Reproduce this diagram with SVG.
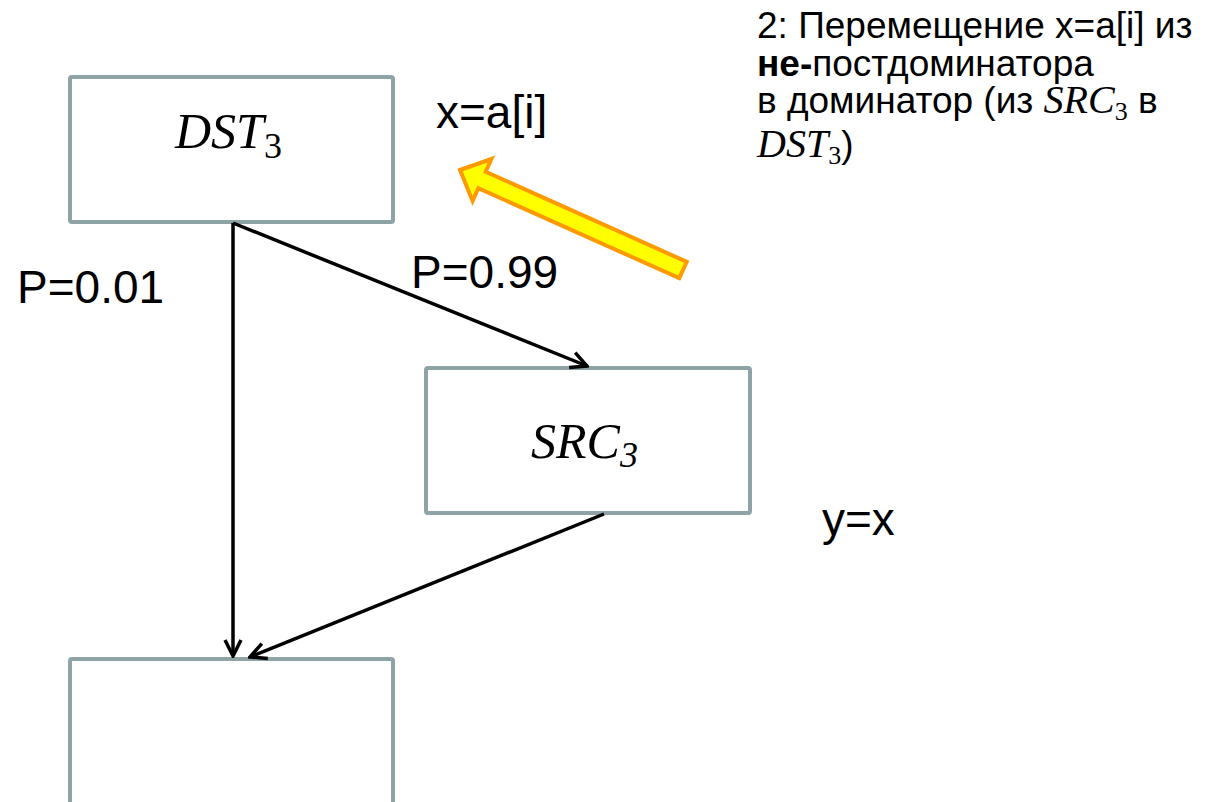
<svg xmlns="http://www.w3.org/2000/svg" width="1212" height="802" viewBox="0 0 1212 802">
<style>
.box{fill:#fff;stroke:#8DA3A6;stroke-width:4;}
.lbl{font-family:"Liberation Sans",Arial,sans-serif;font-size:46px;fill:#000;}
.note{font-family:"Liberation Sans",Arial,sans-serif;font-size:37px;fill:#000;}
.math{font-family:"Liberation Serif","Times New Roman",serif;font-style:italic;font-size:40px;}
.sub{font-family:"Liberation Serif","Times New Roman",serif;font-style:normal;}
.edge{stroke:#000;stroke-width:3.5;fill:none;}
</style>
<defs>
<marker id="arr" viewBox="0 0 20 20" refX="18" refY="10" markerWidth="20" markerHeight="20" markerUnits="userSpaceOnUse" orient="auto">
<path d="M2,2 L18,10 L2,18" fill="none" stroke="#000" stroke-width="3.5"/>
</marker>
</defs>
<rect width="1212" height="802" fill="#fff"/>
<g id="dst3">
<rect class="box" x="70" y="77" width="323" height="145" rx="2"/>
<text x="175" y="148" font-family="Liberation Serif" font-size="50" font-style="italic">DST<tspan class="sub" font-size="36" dy="10">3</tspan></text>
</g>
<g id="src3">
<rect class="box" x="426" y="368" width="324" height="145" rx="2"/>
<text x="531" y="458" font-family="Liberation Serif" font-size="50" font-style="italic">SRC<tspan font-size="36" dy="9">3</tspan></text>
</g>
<g id="bottom">
<rect class="box" x="70" y="659" width="323" height="146" rx="2"/>
</g>
<g id="connectors">
<line class="edge" x1="233" y1="223" x2="233" y2="656" marker-end="url(#arr)"/>
<line class="edge" x1="233" y1="223" x2="587" y2="366" marker-end="url(#arr)"/>
<line class="edge" x1="604" y1="514" x2="250" y2="657" marker-end="url(#arr)"/>
</g>
<g id="move-arrow">
<polygon points="460,170 491.4,159 485.7,171.8 686.7,261.8 679.3,278.2 478.3,188.2 472.6,201" fill="#FFFF00" stroke="#FF9900" stroke-width="4" stroke-linejoin="miter"/>
</g>
<g id="labels">
<text class="lbl" x="436" y="128">x=a[i]</text>
<text class="lbl" x="17" y="303">P=0.01</text>
<text class="lbl" x="411" y="288">P=0.99</text>
<text class="lbl" x="822" y="535">y=x</text>
</g>
<g id="note">
<text class="note" x="757" y="38">2: Перемещение x=a[i] из</text>
<text class="note" x="757" y="76"><tspan font-weight="bold">не-</tspan>постдоминатора</text>
<text class="note" x="757" y="113">в доминатор (из <tspan class="math">SRC</tspan><tspan class="sub" font-size="26" dy="7">3</tspan><tspan dy="-7"> в</tspan></text>
<text class="note" x="757" y="157"><tspan class="math">DST</tspan><tspan class="sub" font-size="26" dy="7">3</tspan><tspan dy="-7">)</tspan></text>
</g>
</svg>
